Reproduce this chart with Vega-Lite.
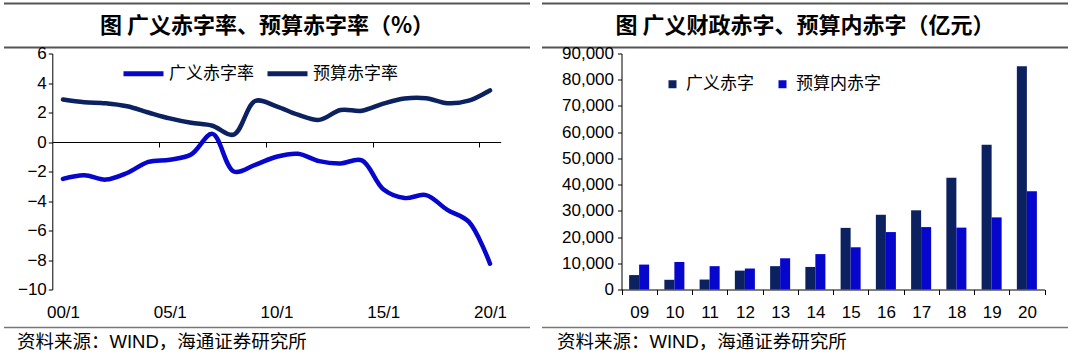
{
  "$schema": "https://vega.github.io/schema/vega-lite/v6.json",
  "background": "white",
  "padding": {"left": 3, "top": 2.5, "right": 5, "bottom": 5},
  "config": {"view": {"stroke": null}, "font": "Liberation Sans"},
  "spacing": 10,
  "resolve": {"scale": {"color": "independent"}, "legend": {"color": "independent"}},
  "hconcat": [
    {
      "bounds": "flush",
      "spacing": 6,
      "vconcat": [
        {
          "width": 526,
          "height": 44,
          "view": {"stroke": "#555555", "strokeWidth": 2, "strokeDash": [526, 44]},
          "data": {"values": [{"t": "图 广义赤字率、预算赤字率（%）"}]},
          "mark": {"type": "text", "fontSize": 22, "fontWeight": "bold", "font": "Noto Sans CJK SC", "color": "black"},
          "encoding": {"text": {"field": "t"}}
        },
        {
          "width": 526,
          "height": 236,
          "data": {"values": [
            {"year": 2000, "series": "广义赤字率", "value": -2.5},
            {"year": 2001, "series": "广义赤字率", "value": -2.25},
            {"year": 2002, "series": "广义赤字率", "value": -2.55},
            {"year": 2003, "series": "广义赤字率", "value": -2.1},
            {"year": 2004, "series": "广义赤字率", "value": -1.35},
            {"year": 2005, "series": "广义赤字率", "value": -1.2},
            {"year": 2006, "series": "广义赤字率", "value": -0.85},
            {"year": 2007, "series": "广义赤字率", "value": 0.55},
            {"year": 2008, "series": "广义赤字率", "value": -2.0},
            {"year": 2009, "series": "广义赤字率", "value": -1.55},
            {"year": 2010, "series": "广义赤字率", "value": -1.0},
            {"year": 2011, "series": "广义赤字率", "value": -0.8},
            {"year": 2012, "series": "广义赤字率", "value": -1.3},
            {"year": 2013, "series": "广义赤字率", "value": -1.45},
            {"year": 2014, "series": "广义赤字率", "value": -1.25},
            {"year": 2015, "series": "广义赤字率", "value": -3.2},
            {"year": 2016, "series": "广义赤字率", "value": -3.8},
            {"year": 2017, "series": "广义赤字率", "value": -3.6},
            {"year": 2018, "series": "广义赤字率", "value": -4.6},
            {"year": 2019, "series": "广义赤字率", "value": -5.4},
            {"year": 2020, "series": "广义赤字率", "value": -8.25},
            {"year": 2000, "series": "预算赤字率", "value": 2.88},
            {"year": 2001, "series": "预算赤字率", "value": 2.7},
            {"year": 2002, "series": "预算赤字率", "value": 2.63},
            {"year": 2003, "series": "预算赤字率", "value": 2.42},
            {"year": 2004, "series": "预算赤字率", "value": 2.0},
            {"year": 2005, "series": "预算赤字率", "value": 1.6},
            {"year": 2006, "series": "预算赤字率", "value": 1.3},
            {"year": 2007, "series": "预算赤字率", "value": 1.1},
            {"year": 2008, "series": "预算赤字率", "value": 0.5},
            {"year": 2009, "series": "预算赤字率", "value": 2.78},
            {"year": 2010, "series": "预算赤字率", "value": 2.42},
            {"year": 2011, "series": "预算赤字率", "value": 1.85},
            {"year": 2012, "series": "预算赤字率", "value": 1.5},
            {"year": 2013, "series": "预算赤字率", "value": 2.17},
            {"year": 2014, "series": "预算赤字率", "value": 2.12},
            {"year": 2015, "series": "预算赤字率", "value": 2.6},
            {"year": 2016, "series": "预算赤字率", "value": 2.95},
            {"year": 2017, "series": "预算赤字率", "value": 2.97},
            {"year": 2018, "series": "预算赤字率", "value": 2.63},
            {"year": 2019, "series": "预算赤字率", "value": 2.8},
            {"year": 2020, "series": "预算赤字率", "value": 3.5}
          ]},
          "resolve": {"axis": {"x": "independent"}},
          "encoding": {
            "y": {"field": "value", "type": "quantitative",
              "scale": {"domain": [-10, 6], "nice": false, "zero": false},
              "axis": {"orient": "left", "offset": -48.3, "values": [-10, -8, -6, -4, -2, 0, 2, 4, 6], "labelOverlap": false, "tickSize": 4, "tickColor": "black", "domainColor": "black", "labelFontSize": 17, "labelFont": "Liberation Sans", "labelColor": "black", "labelPadding": 2, "grid": false, "title": null}},
            "color": {"field": "series", "type": "nominal",
              "scale": {"domain": ["广义赤字率", "预算赤字率"], "range": ["#0606CC", "#0B2160"]},
              "legend": {"orient": "none", "legendX": 117, "legendY": 47.5, "direction": "horizontal", "title": null, "symbolType": "stroke", "symbolSize": 1600, "symbolStrokeWidth": 5, "labelFontSize": 17, "labelFont": "Noto Sans CJK SC", "labelColor": "black", "labelOffset": 3, "columnPadding": 3, "padding": 0}}
          },
          "layer": [
            {
              "transform": [{"filter": "datum.series === '预算赤字率'"}],
              "mark": {"type": "line", "interpolate": "catmull-rom", "strokeWidth": 4.5, "strokeCap": "round"},
              "encoding": {
                "x": {"field": "year", "type": "quantitative",
                  "scale": {"domain": [1999.5, 2020.5], "range": [48.3, 496.7], "nice": false, "zero": false},
                  "axis": {"orient": "bottom", "offset": -147.5, "values": [2004.5, 2009.5, 2014.5, 2019.5], "labels": false, "ticks": true, "tickSize": 5, "tickColor": "black", "domain": true, "domainColor": "black", "grid": false, "title": null}}
              }
            },
            {
              "transform": [{"filter": "datum.series === '广义赤字率'"}],
              "mark": {"type": "line", "interpolate": "catmull-rom", "strokeWidth": 4.5, "strokeCap": "round"},
              "encoding": {
                "x": {"field": "year", "type": "quantitative",
                  "axis": {"orient": "bottom", "values": [2000, 2005, 2010, 2015, 2020], "labelExpr": "(datum.value % 100 < 10 ? '0' : '') + (datum.value % 100) + '/1'", "labelOverlap": false, "domain": false, "ticks": false, "grid": false, "title": null, "labelFontSize": 17, "labelFont": "Liberation Sans", "labelColor": "black", "labelPadding": 14.5}}
              }
            }
          ]
        },
        {
          "width": 526,
          "height": 32,
          "view": {"stroke": "#777777", "strokeWidth": 1.5, "strokeDash": [0, 558, 526, 32]},
          "data": {"values": [{"t": ""}]},
          "mark": {"type": "text"},
          "encoding": {"text": {"field": "t"}},
          "title": {"text": "资料来源：WIND，海通证券研究所", "orient": "bottom", "anchor": "start", "frame": "group", "offset": 5, "dx": 13, "fontSize": 18.5, "fontWeight": "normal", "font": "Liberation Sans, Noto Sans CJK SC", "color": "black"}
        }
      ]
    },
    {
      "bounds": "flush",
      "spacing": 6,
      "vconcat": [
        {
          "width": 526,
          "height": 44,
          "view": {"stroke": "#555555", "strokeWidth": 2, "strokeDash": [526, 44]},
          "data": {"values": [{"t": "图 广义财政赤字、预算内赤字（亿元）"}]},
          "mark": {"type": "text", "fontSize": 22, "fontWeight": "bold", "font": "Noto Sans CJK SC", "color": "black"},
          "encoding": {"text": {"field": "t"}}
        },
        {
          "width": 526,
          "height": 236,
          "data": {"values": [
            {"year": "09", "series": "广义赤字", "value": 5500},
            {"year": "09", "series": "预算内赤字", "value": 9500},
            {"year": "10", "series": "广义赤字", "value": 3700},
            {"year": "10", "series": "预算内赤字", "value": 10500},
            {"year": "11", "series": "广义赤字", "value": 3800},
            {"year": "11", "series": "预算内赤字", "value": 8900},
            {"year": "12", "series": "广义赤字", "value": 7200},
            {"year": "12", "series": "预算内赤字", "value": 8000},
            {"year": "13", "series": "广义赤字", "value": 8900},
            {"year": "13", "series": "预算内赤字", "value": 11900},
            {"year": "14", "series": "广义赤字", "value": 8600},
            {"year": "14", "series": "预算内赤字", "value": 13500},
            {"year": "15", "series": "广义赤字", "value": 23500},
            {"year": "15", "series": "预算内赤字", "value": 16100},
            {"year": "16", "series": "广义赤字", "value": 28500},
            {"year": "16", "series": "预算内赤字", "value": 21900},
            {"year": "17", "series": "广义赤字", "value": 30200},
            {"year": "17", "series": "预算内赤字", "value": 23800},
            {"year": "18", "series": "广义赤字", "value": 42600},
            {"year": "18", "series": "预算内赤字", "value": 23600},
            {"year": "19", "series": "广义赤字", "value": 55200},
            {"year": "19", "series": "预算内赤字", "value": 27500},
            {"year": "20", "series": "广义赤字", "value": 85100},
            {"year": "20", "series": "预算内赤字", "value": 37500}
          ]},
          "mark": {"type": "bar"},
          "encoding": {
            "x": {"field": "year", "type": "ordinal",
              "scale": {"range": [79.5, 502.5], "paddingInner": 0, "paddingOuter": 0},
              "axis": {"orient": "bottom", "tickBand": "extent", "labelAngle": 0, "labelOverlap": false, "tickSize": 5, "tickColor": "black", "domainColor": "black", "labelFontSize": 17, "labelFont": "Liberation Sans", "labelColor": "black", "labelPadding": 9.5, "grid": false, "title": null}},
            "xOffset": {"field": "series", "type": "nominal", "sort": ["广义赤字", "预算内赤字"],
              "scale": {"paddingInner": 0, "paddingOuter": 0.76}},
            "y": {"field": "value", "type": "quantitative",
              "scale": {"domain": [0, 90000], "nice": false},
              "axis": {"orient": "left", "offset": -79.5, "values": [0, 10000, 20000, 30000, 40000, 50000, 60000, 70000, 80000, 90000], "labelExpr": "format(datum.value, ',')", "labelOverlap": false, "tickSize": 4, "tickColor": "black", "domainColor": "black", "labelFontSize": 17, "labelFont": "Liberation Sans", "labelColor": "black", "labelPadding": 4, "grid": false, "title": null}},
            "color": {"field": "series", "type": "nominal",
              "scale": {"domain": ["广义赤字", "预算内赤字"], "range": ["#0B2160", "#0606CC"]},
              "legend": {"orient": "none", "legendX": 122, "legendY": 72, "direction": "horizontal", "title": null, "symbolType": "square", "symbolSize": 64, "symbolStrokeWidth": 0, "symbolOpacity": 1, "labelFontSize": 17, "labelFont": "Noto Sans CJK SC", "labelColor": "black", "labelOffset": 5, "columnPadding": 20, "padding": 0}}
          }
        },
        {
          "width": 526,
          "height": 32,
          "view": {"stroke": "#777777", "strokeWidth": 1.5, "strokeDash": [0, 558, 526, 32]},
          "data": {"values": [{"t": ""}]},
          "mark": {"type": "text"},
          "encoding": {"text": {"field": "t"}},
          "title": {"text": "资料来源：WIND，海通证券研究所", "orient": "bottom", "anchor": "start", "frame": "group", "offset": 5, "dx": 15, "fontSize": 18.5, "fontWeight": "normal", "font": "Liberation Sans, Noto Sans CJK SC", "color": "black"}
        }
      ]
    }
  ]
}
